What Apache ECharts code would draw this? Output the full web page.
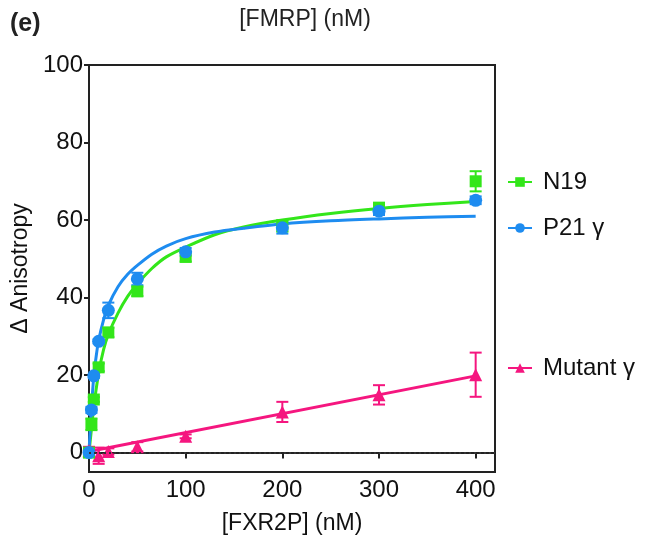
<!DOCTYPE html>
<html>
<head>
<meta charset="utf-8">
<script src="https://cdn.jsdelivr.net/npm/echarts@6/dist/echarts.min.js"></script>
<style>
  html, body { margin: 0; padding: 0; background: #fff; }
  #chart { width: 653px; height: 550px; }
</style>
</head>
<body>
<div id="chart"></div>
<script>
// measured points (nM, delta anisotropy)
var conc = [0, 2.5, 5, 10, 20, 50, 100, 200, 300, 400]
var n19 = [0, 7.3, 13.7, 22, 31, 41.6, 50.5, 58.5, 63.2, 70]
var n19Err = [0.5, 1.5, 0.6, 1.0, 1.2, 1.2, 1.2, 1.5, 1.2, 2.6]
var p21 = [0, 11, 19.8, 28.7, 36.7, 44.8, 51.8, 58, 62.3, 65.1]
var p21Err = [0.5, 0.8, 0.5, 0.5, 2.0, 1.6, 1.0, 1.5, 1.0, 1.0]
var mutConc = [0, 10, 20, 50, 100, 200, 300, 400]
var mutant = [0.5, -0.8, 0.3, 1.5, 4.2, 10.5, 14.9, 20.1]
var mutantErr = [1.0, 2.1, 0.8, 1.2, 0.5, 2.6, 2.5, 5.7]

// fitted curves
var n19FitX = [0, 2.5, 5, 10, 15, 20, 30, 40, 50, 65, 80, 100, 130, 160, 200, 250, 300, 350, 400]
var n19FitY = [0, 6, 12, 20.5, 26.5, 30.5, 36, 40.3, 43.5, 47.5, 50.5, 53, 56.2, 58.2, 60, 61.7, 63, 64, 64.8]
var p21FitX = [0, 1, 2.5, 5, 7.5, 10, 15, 20, 30, 40, 50, 65, 80, 100, 130, 160, 200, 250, 300, 350, 400]
var p21FitY = [0, 5, 11.5, 19.8, 25, 29, 34.2, 38, 42.8, 46, 48.3, 51.2, 53.3, 55.2, 56.9, 57.9, 59, 59.8, 60.3, 60.7, 61]
var mutFitX = [0, 400]
var mutFitY = [0.3, 19.8]

var xTicks = [0, 100, 200, 300, 400]
var yTicks = [0, 20, 40, 60, 80, 100]

var GREEN = '#33e61a'
var BLUE = '#1e8cf0'
var PINK = '#f5167f'
var FONT = 'Liberation Sans, Arial, sans-serif'

function pairs(xs, ys) {
  return xs.map(function (x, i) { return [x, ys[i]] })
}
function errs(xs, ys, es) {
  return xs.map(function (x, i) { return [x, ys[i] - es[i], ys[i] + es[i]] })
}
function errRender(params, api) {
  var x = api.value(0)
  var top = api.coord([x, api.value(2)])
  var bot = api.coord([x, api.value(1)])
  var w = 6
  var style = { stroke: api.visual('color'), lineWidth: 2 }
  return {
    type: 'group',
    children: [
      { type: 'line', shape: { x1: top[0], y1: top[1], x2: bot[0], y2: bot[1] }, style: style },
      { type: 'line', shape: { x1: top[0] - w, y1: top[1], x2: top[0] + w, y2: top[1] }, style: style },
      { type: 'line', shape: { x1: bot[0] - w, y1: bot[1], x2: bot[0] + w, y2: bot[1] }, style: style }
    ]
  }
}

function fitSeries(name, color, symbol, xs, ys, smooth) {
  return {
    name: name,
    type: 'line',
    color: color,
    data: pairs(xs, ys),
    smooth: smooth,
    symbol: symbol,
    showSymbol: false,
    lineStyle: { width: 3, color: color },
    z: 2,
    silent: true
  }
}
function errSeries(name, color, xs, ys, es) {
  return {
    name: name,
    type: 'custom',
    color: color,
    renderItem: errRender,
    encode: { x: 0, y: [1, 2] },
    data: errs(xs, ys, es),
    z: 3,
    silent: true
  }
}
function pointSeries(name, color, symbol, size, xs, ys) {
  return {
    name: name,
    type: 'scatter',
    color: color,
    symbol: symbol,
    symbolSize: size,
    data: pairs(xs, ys),
    itemStyle: { color: color, opacity: 1 },
    z: 4
  }
}

var chart = echarts.init(document.getElementById('chart'))

var option = {
  animation: false,
  backgroundColor: '#fff',
  textStyle: { fontFamily: FONT },
  grid: {
    left: 89,
    right: 158,
    top: 65,
    bottom: 78,
    show: true,
    borderColor: '#222',
    borderWidth: 2
  },
  graphic: [
    {
      type: 'text', left: 10, top: 12,
      style: { text: '(e)', font: 'bold 25px ' + FONT, fill: '#222' }
    },
    {
      type: 'text', x: 305, y: 20,
      style: { text: '[FMRP] (nM)', font: '23px ' + FONT, fill: '#222', align: 'center', verticalAlign: 'middle' }
    }
  ],
  legend: [
    { data: ['N19'], left: 507, top: 170 },
    { data: ['P21 γ'], left: 507, top: 216 },
    { data: ['Mutant γ'], left: 507, top: 356 }
  ].map(function (l) {
    l.orient = 'vertical'
    l.padding = 0
    l.itemWidth = 24
    l.itemHeight = 12
    l.selectedMode = false
    l.textStyle = { fontSize: 24, color: '#111', fontFamily: FONT, padding: [0, 0, 0, 6] }
    return l
  }),
  xAxis: {
    type: 'value',
    min: 0,
    max: 420,
    name: '[FXR2P] (nM)',
    nameLocation: 'middle',
    nameGap: 40,
    nameTextStyle: { fontSize: 23, color: '#111', fontFamily: FONT },
    splitLine: { show: false },
    axisLine: { lineStyle: { color: '#222', width: 2 } },
    axisTick: { customValues: xTicks, length: 6, lineStyle: { color: '#222', width: 2 } },
    axisLabel: { customValues: xTicks, fontSize: 24, color: '#111', margin: 6, fontFamily: FONT }
  },
  yAxis: {
    type: 'value',
    min: -5,
    max: 100,
    name: 'Δ Anisotropy',
    nameLocation: 'middle',
    nameGap: 54,
    nameRotate: 90,
    nameTextStyle: { fontSize: 23, color: '#111', fontFamily: FONT },
    splitLine: { show: false },
    axisLine: { lineStyle: { color: '#222', width: 2 } },
    axisTick: { customValues: yTicks, length: 5, lineStyle: { color: '#222', width: 2 } },
    axisLabel: { customValues: yTicks, fontSize: 24, color: '#111', margin: 6, fontFamily: FONT }
  },
  series: [
    Object.assign(fitSeries('Mutant γ', PINK, 'triangle', mutFitX, mutFitY, false), {
      markLine: {
        silent: true,
        symbol: 'none',
        label: { show: false },
        lineStyle: { type: [2, 3], color: '#333', width: 2 },
        data: [{ yAxis: 0 }]
      }
    }),
    fitSeries('N19', GREEN, 'rect', n19FitX, n19FitY, 0.3),
    fitSeries('P21 γ', BLUE, 'circle', p21FitX, p21FitY, 0.3),
    errSeries('mutant err', PINK, mutConc, mutant, mutantErr),
    pointSeries('mutant pts', PINK, 'triangle', 13, mutConc, mutant),
    errSeries('n19 err', GREEN, conc, n19, n19Err),
    pointSeries('n19 pts', GREEN, 'rect', 12, conc, n19),
    errSeries('p21 err', BLUE, conc, p21, p21Err),
    pointSeries('p21 pts', BLUE, 'circle', 13, conc, p21)
  ]
}

chart.setOption(option)
</script>
</body>
</html>
